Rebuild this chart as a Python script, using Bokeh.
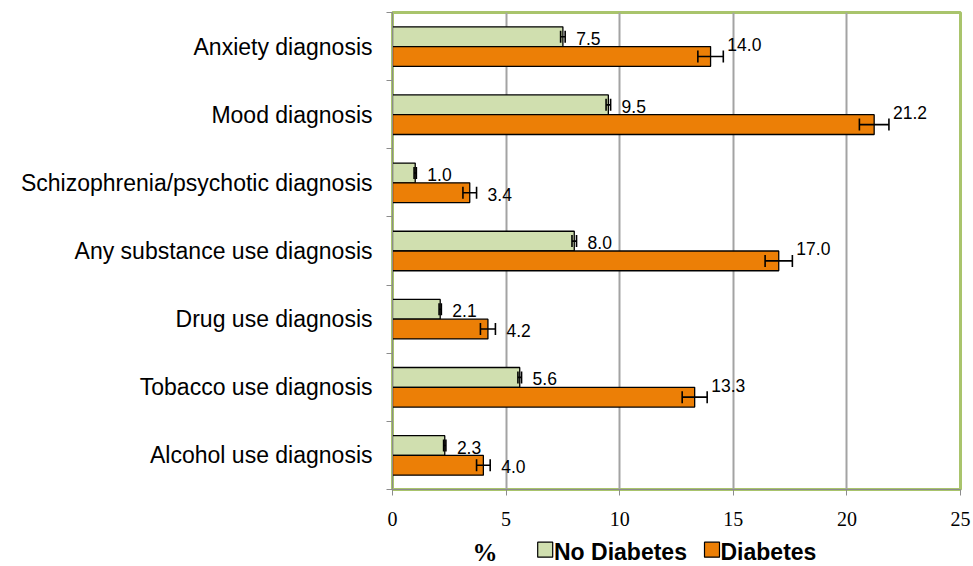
from bokeh.plotting import figure
from bokeh.layouts import column
from bokeh.models import (ColumnDataSource, FixedTicker, Range1d, Whisker, TeeHead)
from bokeh.core.properties import value
from bokeh.embed import file_html
from bokeh.resources import INLINE

# ---------------- data ----------------
categories = ["Anxiety diagnosis", "Mood diagnosis", "Schizophrenia/psychotic diagnosis",
              "Any substance use diagnosis", "Drug use diagnosis", "Tobacco use diagnosis",
              "Alcohol use diagnosis"]
series_names = ["No Diabetes", "Diabetes"]
no_diabetes = [7.5, 9.5, 1.0, 8.0, 2.1, 5.6, 2.3]
no_diabetes_err = [0.1, 0.1, 0.05, 0.1, 0.05, 0.08, 0.05]
diabetes = [14.0, 21.2, 3.4, 17.0, 4.2, 13.3, 4.0]
diabetes_err = [0.56, 0.65, 0.3, 0.6, 0.33, 0.55, 0.3]
x_ticks = [0, 5, 10, 15, 20, 25]
x_label = "%"

# ---------------- styles ----------------
GREEN = "#D0DFAF"
ORANGE = "#EC7F06"
BORDER = "#A9C46C"
GRID = "#A3A3A3"
AX = "#8C8C8C"
BAR_H = 0.29
SHIFT = 0.145
W = 973
LEFT, RIGHT = 392, 13

n = len(categories)
centers = [n - k - 0.5 for k in range(n)]


def make_source(vals, errs, shift):
    ys = [c + shift for c in centers]
    raised = [e >= 0.5 for e in errs]
    return ColumnDataSource(dict(
        y=ys, v=vals, lo=[v - e for v, e in zip(vals, errs)],
        hi=[v + e for v, e in zip(vals, errs)],
        lx=[v + e for v, e in zip(vals, errs)],
        xo=[4 if r else 11 for r in raised],
        yo=[-12 if r else 1.5 for r in raised],
        txt=["%.1f" % v for v in vals],
    ))


src_nd = make_source(no_diabetes, no_diabetes_err, SHIFT)
src_d = make_source(diabetes, diabetes_err, -SHIFT)

p = figure(width=W, height=534, output_backend="svg", toolbar_location=None,
           x_range=Range1d(x_ticks[0], x_ticks[-1]), y_range=Range1d(0, n),
           min_border_left=LEFT, min_border_right=RIGHT, min_border_top=12,
           min_border_bottom=45)

r_nd = p.hbar(y="y", right="v", left=0, height=BAR_H, source=src_nd,
              fill_color=GREEN, line_color="black", line_width=1.3)
r_d = p.hbar(y="y", right="v", left=0, height=BAR_H, source=src_d,
             fill_color=ORANGE, line_color="black", line_width=1.3)

for src in (src_nd, src_d):
    w = Whisker(source=src, base="y", lower="lo", upper="hi", dimension="width",
                line_color="black", line_width=1.6, level="annotation",
                upper_head=TeeHead(size=12, line_color="black", line_width=1.6),
                lower_head=TeeHead(size=12, line_color="black", line_width=1.6))
    p.add_layout(w)
    p.text(x="lx", y="y", text="txt", x_offset="xo", y_offset="yo", source=src,
           text_font=value("Liberation Sans"), text_font_size="17.5px",
           text_color="black", text_align="left", text_baseline="middle")

# axes
p.xaxis.ticker = FixedTicker(ticks=x_ticks)
p.xaxis.major_label_text_font = "Liberation Serif"
p.xaxis.major_label_text_font_size = "20px"
p.xaxis.major_label_text_color = "black"
p.xaxis.major_tick_out = 6
p.xaxis.major_tick_in = 0
p.xaxis.minor_tick_line_color = None
p.xaxis.axis_line_color = AX
p.xaxis.major_tick_line_color = AX
p.xaxis.major_label_standoff = 16

p.yaxis.ticker = FixedTicker(ticks=centers, minor_ticks=list(range(n + 1)))
p.yaxis.major_label_overrides = {c: lab for c, lab in zip(centers, categories)}
p.yaxis.major_label_text_font = "Liberation Sans"
p.yaxis.major_label_text_font_size = "23px"
p.yaxis.major_label_text_color = "black"
p.yaxis.major_tick_line_color = None
p.yaxis.minor_tick_out = 6
p.yaxis.minor_tick_in = 0
p.yaxis.minor_tick_line_color = AX
p.yaxis.axis_line_color = AX
p.yaxis.major_label_standoff = 14

p.xgrid.ticker = FixedTicker(ticks=x_ticks[1:-1])
p.xgrid.grid_line_color = GRID
p.xgrid.grid_line_width = 2
p.ygrid.visible = False

p.outline_line_color = BORDER
p.outline_line_width = 3
p.background_fill_color = "white"
p.border_fill_color = "white"

# ---------------- legend row (axis title + legend) ----------------
# this strip's frame is aligned with the main frame by the column layout,
# so its x range is expressed in page pixels of that frame.
H2 = 32
q = figure(width=W, height=H2, output_backend="svg", toolbar_location=None,
           x_range=Range1d(LEFT, W - RIGHT), y_range=Range1d(0, H2),
           x_axis_location=None, y_axis_location=None,
           min_border_left=LEFT, min_border_right=RIGHT,
           min_border_top=0, min_border_bottom=0)
q.outline_line_color = None
q.xgrid.visible = False
q.ygrid.visible = False
q.background_fill_color = "white"
q.border_fill_color = "white"

q.text(x=[484.5], y=[14], text=[x_label], text_font=value("Liberation Serif"),
       text_font_style="bold", text_font_size="25px", text_align="center",
       text_baseline="middle", text_color="black")
sw_x = [544.7, 711.5]
q.rect(x=sw_x, y=[16.8, 16.8], width=15, height=15,
       fill_color=[GREEN, ORANGE], line_color="black", line_width=1.2)
q.text(x=[553.5, 720.0], y=[15, 15], text=series_names,
       text_font=value("Liberation Sans"), text_font_style="bold",
       text_font_size="23px", text_align="left", text_baseline="middle",
       text_color="black")

layout = column(p, q, spacing=0)
open("out.html", "w").write(file_html(layout, INLINE))
